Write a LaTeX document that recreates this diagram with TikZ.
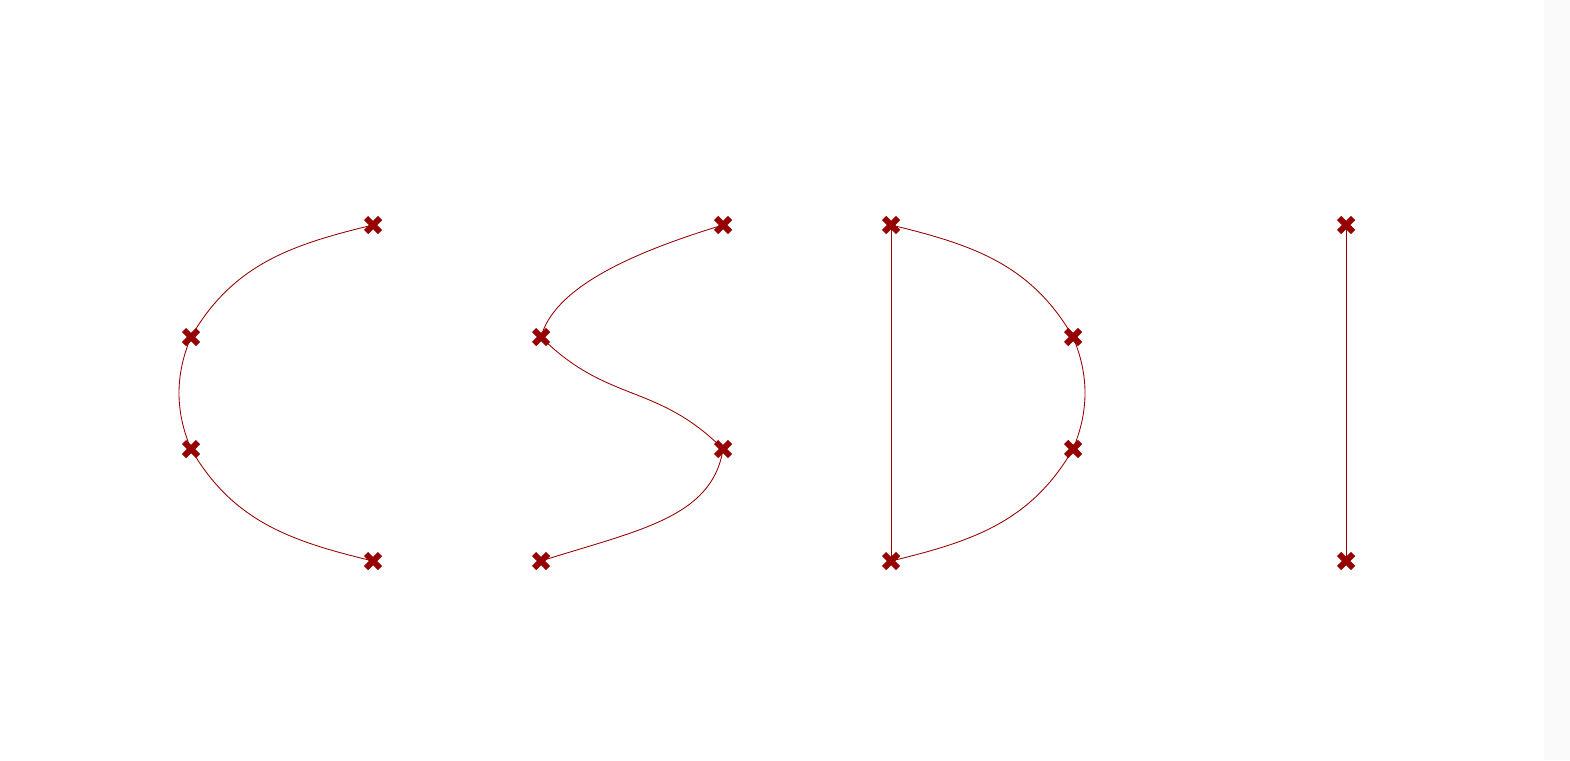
\documentclass[tikz,border=0pt]{standalone}
\definecolor{mred}{RGB}{150,0,0}
\definecolor{edgegray}{RGB}{250,250,250}
\begin{document}
\begin{tikzpicture}[x=1pt,y=-1pt,
  curve/.style={draw=mred,line width=0.85pt},
  xmark/.pic={\draw[mred,line width=6pt] (-7,-7) -- (7,7) (-7,7) -- (7,-7);}]
\useasboundingbox (0,0) rectangle (1570,760);
\fill[white] (0,0) rectangle (1570,760);
\fill[edgegray] (1544,0) rectangle (1570,760);
% coordinates (screen pixels, y downward)
\coordinate (c1) at (373,225); \coordinate (c2) at (191,337);
\coordinate (c3) at (191,449); \coordinate (c4) at (373,561);
\coordinate (s1) at (723,225); \coordinate (s2) at (541,337);
\coordinate (s3) at (723,449); \coordinate (s4) at (541,561);
\coordinate (d1) at (891,225); \coordinate (d2) at (1073,337);
\coordinate (d3) at (1073,449); \coordinate (d4) at (891,561);
\coordinate (i1) at (1346,225); \coordinate (i2) at (1346,561);
% C
\draw[curve] (c1) .. controls (291.4,244.6) and (233,264.3) .. (c2)
  .. controls (175,375) and (175,411) .. (c3)
  .. controls (233,521.7) and (291.4,541.4) .. (c4);
% S
\draw[curve] (s1) .. controls (627,254) and (554,289) .. (s2)
  .. controls (607.5,403.5) and (656.5,382.5) .. (s3)
  .. controls (712.5,518.2) and (636.3,530.6) .. (s4);
% D
\draw[curve] (d1) .. controls (972.6,244.6) and (1031,264.3) .. (d2)
  .. controls (1089,375) and (1089,411) .. (d3)
  .. controls (1031,521.7) and (972.6,541.4) .. (d4);
\draw[curve] (d1) -- (d4);
% I
\draw[curve] (i1) -- (i2);
% markers
\foreach \p in {c1,c2,c3,c4,s1,s2,s3,s4,d1,d2,d3,d4,i1,i2}
  \pic at (\p) {xmark};
\end{tikzpicture}
\end{document}
